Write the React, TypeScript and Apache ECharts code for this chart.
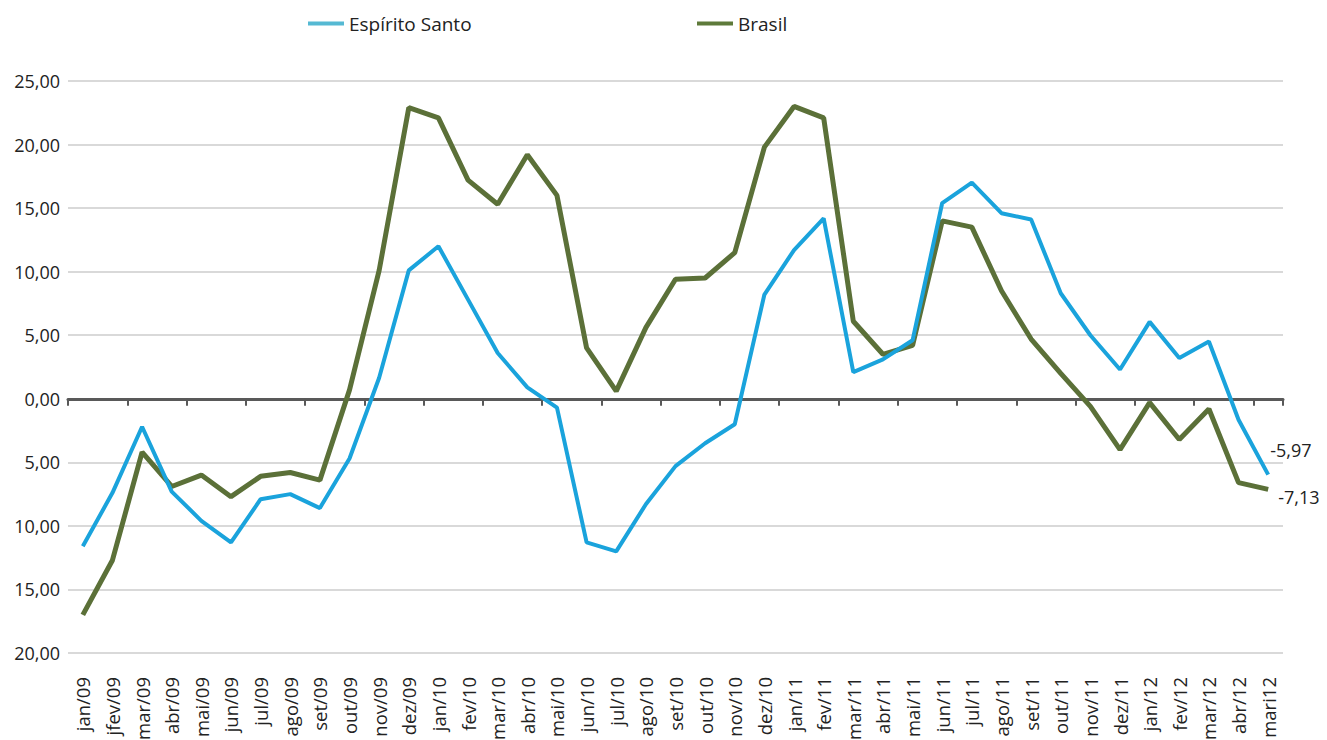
import React, { useEffect, useRef } from "react";
import * as echarts from "echarts";

const categories = [
  "jan/09", "jfev/09", "mar/09", "abr/09", "mai/09", "jun/09", "jul/09", "ago/09", "set/09", "out/09", "nov/09", "dez/09",
  "jan/10", "fev/10", "mar/10", "abr/10", "mai/10", "jun/10", "jul/10", "ago/10", "set/10", "out/10", "nov/10", "dez/10",
  "jan/11", "fev/11", "mar/11", "abr/11", "mai/11", "jun/11", "jul/11", "ago/11", "set/11", "out/11", "nov/11", "dez/11",
  "jan/12", "fev/12", "mar/12", "abr/12", "mari12",
];

const espiritoSanto = [
  -11.6, -7.4, -2.2, -7.3, -9.6, -11.3, -7.9, -7.5, -8.6, -4.7, 1.65, 10.1,
  12.0, 7.8, 3.6, 0.9, -0.7, -11.3, -12.0, -8.3, -5.3, -3.5, -2.0, 8.2,
  11.7, 14.2, 2.1, 3.1, 4.6, 15.4, 17.0, 14.6, 14.1, 8.3, 5.0, 2.3,
  6.05, 3.2, 4.5, -1.65, -5.97,
];

const brasil = [
  -17.0, -12.7, -4.2, -6.9, -6.0, -7.7, -6.1, -5.8, -6.4, 0.7, 10.1, 22.9,
  22.1, 17.2, 15.3, 19.2, 16.0, 4.0, 0.6, 5.6, 9.4, 9.5, 11.5, 19.8,
  23.0, 22.1, 6.1, 3.5, 4.2, 14.0, 13.5, 8.5, 4.7, 2.0, -0.6, -4.0,
  -0.3, -3.2, -0.8, -6.6, -7.13,
];

const FONT = "'Open Sans', 'Noto Sans', sans-serif";
const BLUE = "#1AA3DC";
const GREEN = "#5B7038";

const fmt = (v: number) => v.toFixed(2).replace(".", ",");

export default function App() {
  const ref = useRef<HTMLDivElement>(null);
  useEffect(() => {
    if (!ref.current) return;
    const chart = echarts.init(ref.current, null, { renderer: "svg" });
    chart.setOption({
      animation: false,
      backgroundColor: "#fff",
      textStyle: { fontFamily: FONT },
      legend: [
        {
          left: 295,
          top: 1,
          itemWidth: 36,
          itemHeight: 4,
          itemGap: 10,
          icon: "rect",
          data: [{ name: "Espírito Santo", itemStyle: { color: "#55B9D3" } }],
          textStyle: { fontSize: 19, color: "#222", fontFamily: FONT },
        },
        {
          left: 684,
          top: 1,
          itemWidth: 36,
          itemHeight: 4,
          icon: "rect",
          data: [{ name: "Brasil", itemStyle: { color: "#5E7A3A" } }],
          textStyle: { fontSize: 19, color: "#222", fontFamily: FONT },
        },
      ],
      grid: {
        left: 60,
        right: 44,
        top: 73,
        bottom: 87,
        containLabel: false,
        outerBoundsMode: "none",
      },
      xAxis: [
        {
          type: "category",
          data: categories,
          boundaryGap: true,
          axisLine: { onZero: true, lineStyle: { color: "#595959", width: 3 } },
          axisTick: { show: true, inside: false, length: 7, lineStyle: { color: "#595959", width: 2 } },
          axisLabel: { show: false },
        },
        {
          type: "category",
          data: categories,
          boundaryGap: true,
          position: "bottom",
          axisLine: { show: false, onZero: false },
          axisTick: { show: false },
          axisLabel: {
            rotate: 90,
            interval: 0,
            fontSize: 18.5,
            color: "#222",
            margin: 24,
            fontFamily: FONT,
          },
        },
      ],
      yAxis: {
        type: "value",
        min: -20,
        max: 25,
        interval: 5,
        axisLine: { show: false },
        axisTick: { show: false },
        splitLine: { lineStyle: { color: "#D9D9D9", width: 2 } },
        axisLabel: {
          fontSize: 18,
          color: "#222",
          margin: 8,
          fontFamily: FONT,
          formatter: (v: number) => fmt(Math.abs(v)),
        },
      },
      series: [
        {
          name: "Espírito Santo",
          type: "line",
          xAxisIndex: 0,
          data: espiritoSanto,
          symbol: "none",
          lineStyle: { color: BLUE, width: 4 },
          itemStyle: { color: BLUE },
          endLabel: {
            show: true,
            formatter: (p: any) => fmt(p.value),
            fontSize: 18,
            color: "#222",
            fontFamily: FONT,
            offset: [-6, -25],
          },
          z: 3,
        },
        {
          name: "Brasil",
          type: "line",
          xAxisIndex: 0,
          data: brasil,
          symbol: "none",
          lineStyle: { color: GREEN, width: 5 },
          itemStyle: { color: GREEN },
          endLabel: {
            show: true,
            formatter: (p: any) => fmt(p.value),
            fontSize: 18,
            color: "#222",
            fontFamily: FONT,
            offset: [2, 8],
          },
          z: 2,
        },
      ],
    });
    return () => chart.dispose();
  }, []);
  return <div ref={ref} style={{ width: 1319, height: 732 }} />;
}
